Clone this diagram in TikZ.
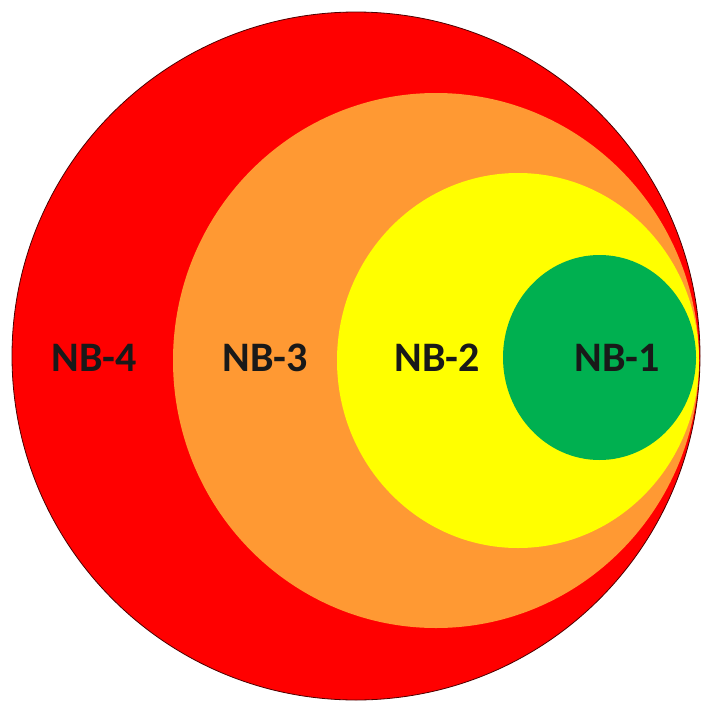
\documentclass[tikz,border=0pt]{standalone}
\usepackage{fontspec}
\setmainfont{Carlito}
\definecolor{cred}{HTML}{FF0000}
\definecolor{corange}{HTML}{FF9933}
\definecolor{cyellow}{HTML}{FFFF00}
\definecolor{cgreen}{HTML}{00B050}
\tikzset{
  lbl/.style={font=\fontsize{42}{48}\selectfont\bfseries, text=black!90, inner sep=0pt},
  zone/.style={draw=none}
}
\begin{document}
\begin{tikzpicture}[x=1pt,y=-1pt]
\useasboundingbox (0,0) rectangle (702,704);
\fill[cred, draw=black!70!red, line width=0.8pt] (356,356) ellipse [x radius=344, y radius=344];
\fill[corange, zone] (436,360.5) ellipse [x radius=263, y radius=267.5];
\fill[cyellow, zone] (518,360.5) ellipse [x radius=181, y radius=187.5];
\fill[cgreen, zone] (599.5,357.5) ellipse [x radius=96.5, y radius=102.5];
\node[lbl] (nb4) at (94,358) {NB-4};
\node[lbl] (nb3) at (265,358) {NB-3};
\node[lbl] (nb2) at (437,358) {NB-2};
\node[lbl] (nb1) at (617,358) {NB-1};
\end{tikzpicture}
\end{document}
